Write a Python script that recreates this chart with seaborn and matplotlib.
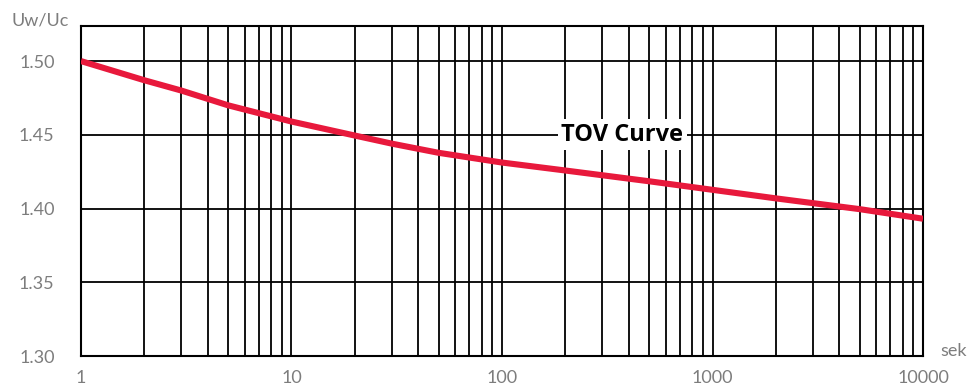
import matplotlib
matplotlib.use("Agg")
import matplotlib.pyplot as plt
import matplotlib.ticker as mticker
import pandas as pd
import seaborn as sns

# TOV curve: withstand ratio Uw/Uc versus duration in seconds
seconds = [1, 2, 3, 5, 10, 20, 30, 50, 100, 200, 500, 1000, 2000, 5000, 10000]
ratio = [1.500, 1.487, 1.480, 1.470, 1.459, 1.4495, 1.4440, 1.4378, 1.4312,
         1.4258, 1.4185, 1.4127, 1.4069, 1.3996, 1.3931]

x_ticks = [1, 10, 100, 1000, 10000]
x_tick_labels = ["1", "10", "100", "1000", "10000"]
y_ticks = [1.30, 1.35, 1.40, 1.45, 1.50]
y_tick_labels = ["1.30", "1.35", "1.40", "1.45", "1.50"]

curve_label = "TOV Curve"
x_unit = "sek"
y_unit = "Uw/Uc"

df = pd.DataFrame({"t": seconds, "u": ratio})

sns.set_theme(style="white")
plt.rcParams["font.family"] = ["Lato", "DejaVu Sans"]

fig = plt.figure(figsize=(9.72, 3.89), dpi=100)
ax = fig.add_axes([0.0833, 0.0848, 0.8663, 0.8484])

ax.set_xscale("log")
ax.set_xlim(1, 10000)
ax.set_ylim(1.30, 1.5238)

# grid: every integer multiple within each decade, plus the value levels
minor_pos = [m * 10 ** d for d in range(4) for m in range(1, 10)] + [10000]
for xv in minor_pos:
    ax.axvline(xv, color="black", lw=1.3, zorder=1)
for yv in y_ticks[1:]:
    ax.axhline(yv, color="black", lw=1.3, zorder=1)

sns.lineplot(data=df, x="t", y="u", ax=ax, color="#E8193C", lw=4.4,
             solid_capstyle="butt", solid_joinstyle="round", zorder=3)

for s in ax.spines.values():
    s.set_color("black")
    s.set_linewidth(1.5)

ax.xaxis.set_major_locator(mticker.FixedLocator(x_ticks))
ax.xaxis.set_minor_locator(mticker.NullLocator())
ax.set_xticks(x_ticks)
ax.set_xticklabels(x_tick_labels)
ax.set_yticks(y_ticks)
ax.set_yticklabels(y_tick_labels)
ax.tick_params(axis="both", length=0, labelsize=13, colors="#7d7d7d")
ax.tick_params(axis="x", pad=10)
ax.tick_params(axis="y", pad=19)
ax.set_xlabel("")
ax.set_ylabel("")

fig.text(0.041, 1 - 20 / 389, y_unit, ha="center", va="center",
         fontsize=13, color="#7d7d7d")
ax.text(1.021, 0.015, x_unit, transform=ax.transAxes, ha="left", va="center",
        fontsize=13, color="#7d7d7d")

ax.text(372, 1.45, curve_label, ha="center", va="center", fontsize=17,
        fontweight="bold", color="black", zorder=4,
        family=["Open Sans", "DejaVu Sans"],
        bbox=dict(facecolor="white", edgecolor="none", pad=2.5))

fig.savefig("out.png", dpi=100, facecolor="white")
